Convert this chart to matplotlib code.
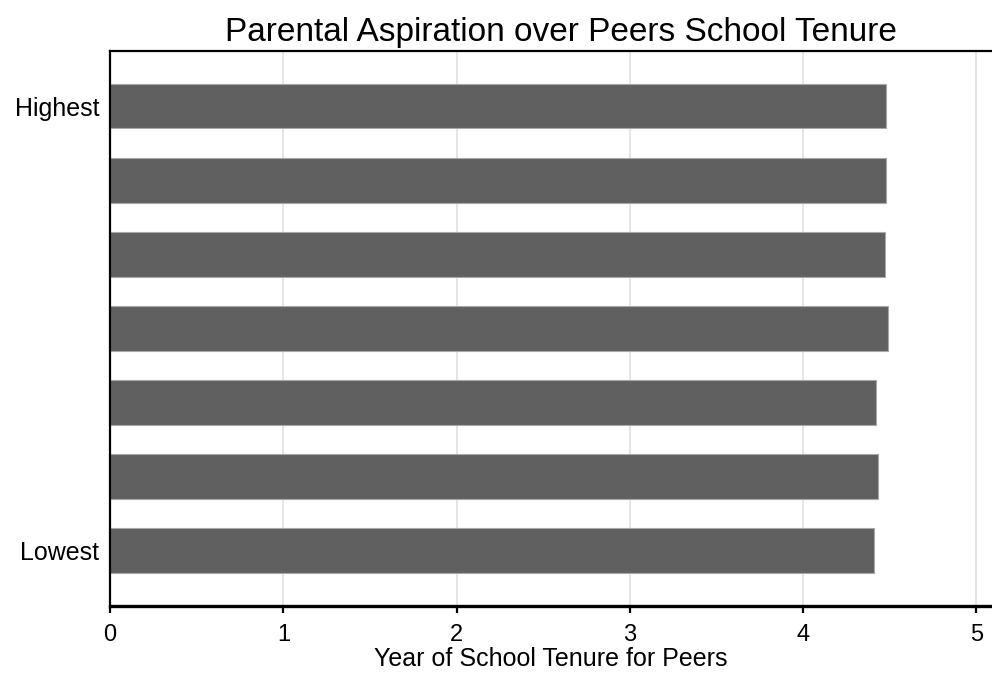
import matplotlib.pyplot as plt

# bar order from bottom (Lowest) to top (Highest)
levels = ["Lowest", "", "", "", "", "", "Highest"]
tenure = [4.41, 4.43, 4.42, 4.49, 4.47, 4.48, 4.48]
xticks = [0, 1, 2, 3, 4, 5]

plt.rcParams.update({"font.family": ["Liberation Sans", "DejaVu Sans"]})
fig = plt.figure(figsize=(9.92, 6.77), dpi=100)
ax = fig.add_axes([0.111, 0.105, 0.889, 0.820])

ax.barh(range(len(tenure)), tenure, height=0.6, color="#606060",
        edgecolor="#a8a8a8", linewidth=0.8, zorder=2)

ax.set_xlim(0, 5.09)
ax.set_ylim(-0.75, len(tenure) - 0.25)
ax.set_xticks(xticks)
ax.set_yticks(range(len(levels)))
ax.set_yticklabels(levels)
ax.grid(axis="x", color="#e0e0e0", linewidth=1.2, zorder=0)
ax.tick_params(axis="y", length=0, labelsize=18, pad=8)
ax.tick_params(axis="x", length=5, width=1.6, labelsize=17, pad=8)

ax.spines["right"].set_visible(False)
ax.spines["top"].set_linewidth(1.6)
ax.spines["left"].set_linewidth(1.6)
ax.spines["bottom"].set_linewidth(2.4)

ax.set_xlabel("Year of School Tenure for Peers", fontsize=18, labelpad=1)
ax.set_title("Parental Aspiration over Peers School Tenure", fontsize=24,
             pad=7, x=0.511)

fig.savefig("out.png", dpi=100)
